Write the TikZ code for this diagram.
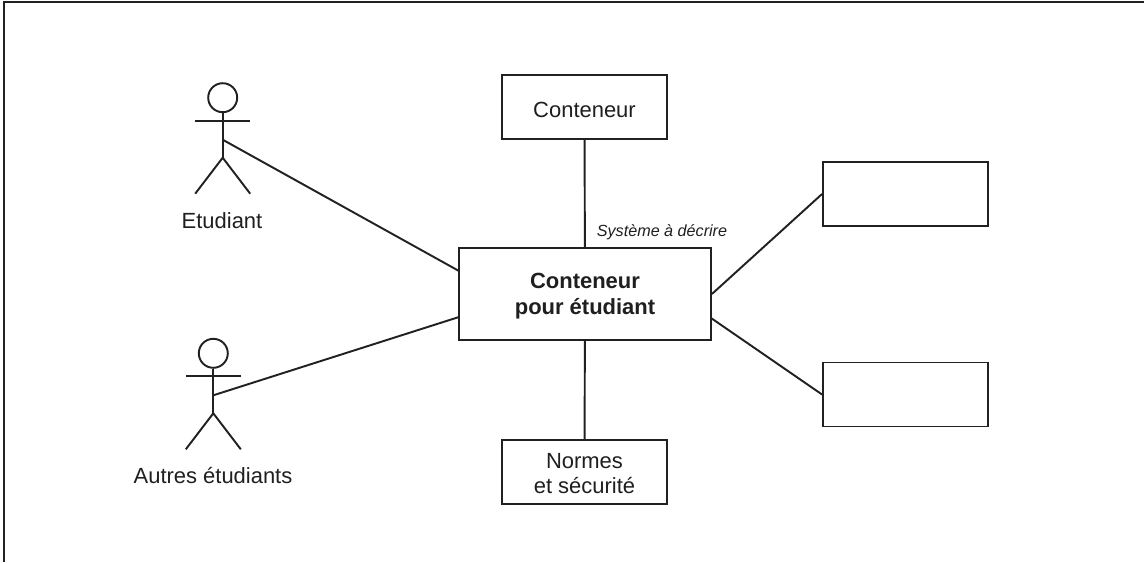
\documentclass[tikz,border=0pt]{standalone}
\usepackage{fontspec}
\setmainfont{Liberation Sans}
\usepackage{xcolor}
\definecolor{lineColor}{rgb}{0.13,0.13,0.13}
\definecolor{textColor}{rgb}{0.12,0.12,0.12}
\usepackage{tikz}
\tikzset{
  boxnode/.style={draw=lineColor,line width=1.1pt,fill=white,text=textColor,minimum width=3.3cm,minimum height=1.28cm,align=center,inner sep=0pt,font=\fontsize{12.5}{14.3}\selectfont},
  mainnode/.style={boxnode,minimum width=5.04cm,minimum height=1.84cm,font=\fontsize{12.5}{15}\selectfont\bfseries},
  actorlabel/.style={inner sep=0pt,text=textColor,font=\fontsize{12.5}{14}\selectfont},
  link/.style={draw=lineColor,line width=1.1pt}
}
\begin{document}
\begin{tikzpicture}[x=0.02cm,y=-0.02cm,line width=1.1pt]
\useasboundingbox (0,0) rectangle (1144,562);
\draw[lineColor,line width=1.5pt] (4,562) -- (4,2) -- (1144,2);
%
\node[mainnode,text depth=0pt] (main) at (585,294) {Conteneur\\pour étudiant};
\node[boxnode,text height=11.8pt] (conteneur) at (584.5,107) {Conteneur};
\node[boxnode,text height=24.8pt] (normes) at (584.5,472) {Normes\\et sécurité};
\node[boxnode] (boxA) at (905.5,194) {};
\node[boxnode] (boxB) at (905.5,394.5) {};
\node[inner sep=0pt,text=textColor,font=\fontsize{9.2}{11}\selectfont\itshape] (sys) at (662,232) {Système à décrire};
%
\foreach \name/\cx/\cy in {actorA/222.7/97.7,actorB/213.3/353.3} {
  \node[draw=lineColor,line width=1.1pt,circle,minimum size=0.58cm,inner sep=0pt] (\name head) at (\cx,\cy) {};
  \coordinate (\name hip) at (\cx,\cy+60);
  \coordinate (\name waist) at (\cx,\cy+42);
  \draw[lineColor] (\name head.south) -- (\name hip);
  \draw[lineColor] (\cx-27.5,\cy+23) -- (\cx+27.5,\cy+23);
  \draw[lineColor] (\cx-27.5,\cy+96) -- (\name hip) -- (\cx+27.5,\cy+96);
}
\node[actorlabel] (etudiant) at (222,220.5) {Etudiant};
\node[actorlabel] (autres) at (213,475.5) {Autres étudiants};
%
\coordinate (mainNW) at (459,271);
\coordinate (mainSW) at (459,317);
\coordinate (mainSE) at (711,318);
\draw[link] (actorAwaist) -- (mainNW);
\draw[link] (actorBwaist) -- (mainSW);
\draw[link] (conteneur) -- (main);
\draw[link] (main) -- (normes);
\draw[link] (main.east) -- (boxA.west);
\draw[link] (mainSE) -- (boxB.west);
\end{tikzpicture}
\end{document}
